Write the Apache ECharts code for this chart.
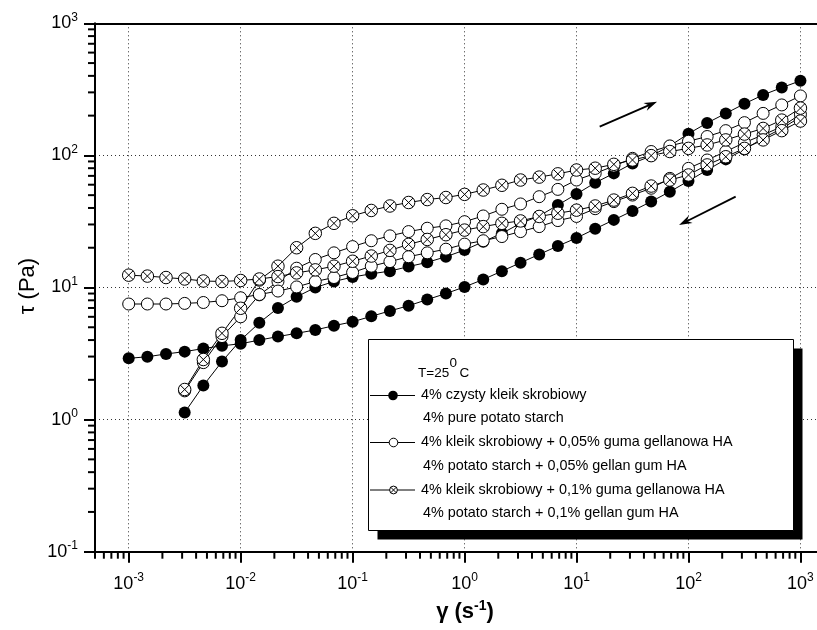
<!DOCTYPE html>
<html><head><meta charset="utf-8">
<script src="https://cdn.jsdelivr.net/npm/echarts@6/dist/echarts.min.js"></script>
<style>html,body{margin:0;padding:0;background:#fff}#c{width:817px;height:630px}</style>
</head><body><div id="c"></div>
<script>
// shear rate (s^-1), 6 points per decade
const GAMMA = [0.001,0.001468,0.002154,0.003162,0.004642,0.006813,0.01,0.01468,0.02154,0.03162,0.04642,0.06813,
  0.1,0.1468,0.2154,0.3162,0.4642,0.6813,1,1.468,2.154,3.162,4.642,6.813,
  10,14.68,21.54,31.62,46.42,68.13,100,146.8,215.4,316.2,464.2,681.3,1000];

// 4% pure potato starch
const PURE_UP = [null,null,null,1.13,1.81,2.75,4.0,5.4,7.0,8.5,10.0,11.1,12.0,12.7,13.3,14.4,15.5,17.1,19.2,22.2,25.7,30.6,34.8,42.1,51.0,62.1,73.1,87,99,118,146,176,208,246,287,326,367];
const PURE_DOWN = [2.91,2.99,3.14,3.27,3.45,3.62,3.75,4.0,4.25,4.5,4.77,5.14,5.5,6.05,6.65,7.28,8.1,9.0,10.1,11.5,13.3,15.4,17.8,20.6,23.7,27.8,32.5,38.0,44.7,53.1,64.0,77.5,93.3,111,135,160,195];
// + 0,05% gellan
const G005_UP = [null,null,null,1.65,2.7,4.25,6.0,8.8,11.1,14.0,16.3,18.3,20.4,22.6,24.6,26.5,28.1,29.3,31.5,34.8,39.1,42.9,48.7,55.3,65.1,73.1,83,95,107,118,128,139,154,177,208,241,282];
const G005_DOWN = [7.5,7.5,7.5,7.58,7.7,7.94,8.36,8.85,9.4,10.1,11.1,11.9,13.0,14.5,15.7,17.1,18.3,19.5,21.3,22.6,24.3,26.5,28.9,32.1,34.5,39.5,44.7,50.1,56.4,67,79.8,92.3,107,125,143,165,205];
// + 0,1% gellan
const G01_UP = [null,null,null,1.69,2.85,4.5,6.96,11.4,14.5,20.0,25.7,30.6,34.9,38.3,41.4,44.0,46.3,48.0,50.7,54.7,59.4,65.1,68.5,72.5,77.5,80,85.6,92.3,99.6,107,113,120,131,145,160,185,228];
const G01_DOWN = [12.4,12.2,11.9,11.6,11.2,11.1,11.3,11.6,12.1,12.9,13.6,14.5,15.8,17.3,19.1,21.2,23.1,25.1,27.2,28.9,30.6,31.9,34.5,36.5,38.5,41.4,45.9,51.6,58.6,65.1,71.1,84.7,97.7,113,131,154,182];

const X_TICKS = [0.001,0.01,0.1,1,10,100,1000];
const Y_TICKS = [0.1,1,10,100,1000];
const X_RANGE = [5e-4, 1406];
const Y_RANGE = [0.1, 1000];

// arrows: [x1, y1, x2, y2] in data units
const ARROW_UP = [16.1, 165, 52.4, 255];
const ARROW_DOWN = [264, 48.7, 82.4, 29.7];

const LEGEND_TITLE = ['T=25', '0', 'C'];
const LEGEND_PL = ['4% czysty kleik skrobiowy','4% kleik skrobiowy + 0,05% guma gellanowa HA','4% kleik skrobiowy + 0,1% guma gellanowa HA'];
const LEGEND_EN = ['4% pure potato starch','4% potato starch + 0,05% gellan gum HA','4% potato starch + 0,1% gellan gum HA'];
const LEGEND_KIND = ['filled','open','cross'];

const FONT = '"Liberation Sans", Arial, Helvetica, sans-serif';
const CROSS = 'path://M0 10A10 10 0 1 1 20 10A10 10 0 1 1 0 10ZM2.93 2.93L17.07 17.07M17.07 2.93L2.93 17.07';

function pairs(vals){ const out=[]; vals.forEach((v,i)=>{ if(v!=null) out.push([GAMMA[i], v]); }); return out; }

function series(name, vals, kind){
  const s = {type:'line', name, data:pairs(vals), symbolSize:12, showSymbol:true, xAxisIndex:0,
    lineStyle:{color:'#000', width:1}, emphasis:{disabled:true}, animation:false, z:3};
  if(kind==='filled'){ s.symbol='circle'; s.itemStyle={color:'#000', borderColor:'#000', borderWidth:0}; }
  if(kind==='open'){ s.symbol='circle'; s.itemStyle={color:'#fff', borderColor:'#000', borderWidth:1}; }
  if(kind==='cross'){ s.symbol=CROSS; s.symbolSize=12.5; s.itemStyle={color:'#fff', borderColor:'#000', borderWidth:1}; }
  return s;
}

function powLabel(v){
  const l = Math.log10(v); const e = Math.round(l);
  if (Math.abs(l-e) > 1e-6) return '';
  return '{b|10}{s|' + e + '}';
}
const RICH_AXIS = {
  b:{fontFamily:FONT, fontSize:18, color:'#000', lineHeight:24},
  s:{fontFamily:FONT, fontSize:12, color:'#000', lineHeight:8, verticalAlign:'top'}
};

// minor tick positions (2..9 x decade)
const MINOR_X = [], MINOR_Y = [];
for (let d=-4; d<=3; d++) for (let k=2; k<=9; k++){
  const v = k*Math.pow(10,d);
  if (v>X_RANGE[0]*0.999 && v<X_RANGE[1]) MINOR_X.push([v, Y_RANGE[0]]);
  if (v>Y_RANGE[0] && v<Y_RANGE[1]) MINOR_Y.push([X_RANGE[0], v]);
}

const minorSeries = [
  {type:'custom', silent:true, animation:false, z:6, clip:false, data:MINOR_X,
   renderItem:(p, api)=>{ const c = api.coord([api.value(0), api.value(1)]);
     return {type:'line', shape:{x1:c[0], y1:c[1], x2:c[0], y2:c[1]+7}, style:{stroke:'#000', lineWidth:2}}; }},
  {type:'custom', silent:true, animation:false, z:6, clip:false, data:MINOR_Y,
   renderItem:(p, api)=>{ const c = api.coord([api.value(0), api.value(1)]);
     return {type:'line', shape:{x1:c[0]-7, y1:c[1], x2:c[0], y2:c[1]}, style:{stroke:'#000', lineWidth:2}}; }}
];

const arrowSeries = {type:'custom', silent:true, animation:false, z:7, clip:false, data:[ARROW_UP, ARROW_DOWN],
  renderItem:(p, api)=>{
    const a = api.coord([api.value(0), api.value(1)]);
    const b = api.coord([api.value(2), api.value(3)]);
    const dx=b[0]-a[0], dy=b[1]-a[1], L=Math.hypot(dx,dy), ux=dx/L, uy=dy/L, nx=-uy, ny=ux;
    const hl=13, hw=4.2;
    const bx=b[0]-ux*hl, by=b[1]-uy*hl;
    return {type:'group', children:[
      {type:'line', shape:{x1:a[0], y1:a[1], x2:b[0]-ux*8, y2:b[1]-uy*8}, style:{stroke:'#000', lineWidth:1.8}},
      {type:'polygon', shape:{points:[[b[0],b[1]],[bx+nx*hw, by+ny*hw],[b[0]-ux*9, b[1]-uy*9],[bx-nx*hw, by-ny*hw]]}, style:{fill:'#000'}}
    ]};
  }};

// legend graphics
const G = [];
const BOX = {x:368.5, y:339.5, w:425, h:191};
const LEG_FS = 14.4;
G.push({type:'rect', z:100, shape:{x:BOX.x+9, y:BOX.y+9, width:BOX.w, height:BOX.h}, style:{fill:'#000'}});
G.push({type:'rect', z:101, shape:{x:BOX.x, y:BOX.y, width:BOX.w, height:BOX.h}, style:{fill:'#fff', stroke:'#000', lineWidth:1}});
const TXT = (x, y, t, fs) => ({type:'text', z:102, x, y, style:{text:t, fontFamily:FONT, fontSize:fs, fill:'#000', align:'left', verticalAlign:'middle', textAlign:'left', textVerticalAlign:'middle'}});
G.push(TXT(418, 373.5, LEGEND_TITLE[0], 13.5));
G.push(TXT(449.5, 363.5, LEGEND_TITLE[1], 13.5));
G.push(TXT(459.5, 373.5, LEGEND_TITLE[2], 13.5));
const ROW_Y = [[395.5, 418.5],[442.5, 466],[490, 513.5]];
for (let i=0;i<3;i++){
  const yc = ROW_Y[i][0];
  G.push({type:'line', z:102, shape:{x1:370, y1:yc, x2:415, y2:yc}, style:{stroke:'#000', lineWidth:1}});
  const kind = LEGEND_KIND[i];
  if (kind==='filled') G.push({type:'circle', z:103, shape:{cx:393, cy:yc, r:4.8}, style:{fill:'#000'}});
  if (kind==='open') G.push({type:'circle', z:103, shape:{cx:393.5, cy:yc, r:4.3}, style:{fill:'#fff', stroke:'#000', lineWidth:1}});
  if (kind==='cross'){
    G.push({type:'circle', z:103, shape:{cx:393.5, cy:yc, r:3.9}, style:{fill:'#fff', stroke:'#000', lineWidth:1}});
    G.push({type:'line', z:104, shape:{x1:390.7, y1:yc-2.8, x2:396.3, y2:yc+2.8}, style:{stroke:'#000', lineWidth:1}});
    G.push({type:'line', z:104, shape:{x1:396.3, y1:yc-2.8, x2:390.7, y2:yc+2.8}, style:{stroke:'#000', lineWidth:1}});
  }
  G.push(TXT(421, yc, LEGEND_PL[i], LEG_FS));
  G.push(TXT(423, ROW_Y[i][1], LEGEND_EN[i], LEG_FS));
}
// axis titles
G.push({type:'text', z:50, x:28, y:286, rotation:Math.PI/2, style:{text:'τ (Pa)', fontFamily:FONT, fontSize:22, fill:'#000', align:'center', verticalAlign:'middle', textAlign:'center', textVerticalAlign:'middle'}});
G.push({type:'text', z:50, x:465, y:612, style:{text:'{g|γ (s}{s|-1}{g|)}',
  rich:{g:{fontFamily:FONT, fontSize:22, fontWeight:'bold', fill:'#000', lineHeight:26}, s:{fontFamily:FONT, fontSize:14, fontWeight:'bold', fill:'#000', lineHeight:10, verticalAlign:'top'}},
  align:'center', verticalAlign:'middle', textAlign:'center', textVerticalAlign:'middle'}});

const axisCommon = {
  type:'log', logBase:10,
  axisLine:{show:true, onZero:false, lineStyle:{color:'#000', width:2}},
  splitLine:{show:true, lineStyle:{color:'#333', width:1, type:[1,3]}},
  minorTick:{show:false}, minorSplitLine:{show:false}
};

const option = {
  animation:false,
  backgroundColor:'#fff',
  grid:{left:95, top:23.3, right:0, bottom:78.3, show:false, containLabel:false},
  xAxis:[
    Object.assign({}, axisCommon, {min:X_RANGE[0], max:X_RANGE[1], position:'bottom',
      axisTick:{show:true, length:11, inside:false, customValues:X_TICKS, lineStyle:{color:'#000', width:2}},
      axisLabel:{customValues:X_TICKS, margin:20, formatter:powLabel, rich:RICH_AXIS}}),
    {type:'log', logBase:10, min:X_RANGE[0], max:X_RANGE[1], position:'top',
      axisLine:{show:true, onZero:false, lineStyle:{color:'#000', width:2}},
      axisTick:{show:false}, axisLabel:{show:false}, splitLine:{show:false}}
  ],
  yAxis:Object.assign({}, axisCommon, {min:Y_RANGE[0], max:Y_RANGE[1],
    axisTick:{show:true, length:11, inside:false, customValues:Y_TICKS, lineStyle:{color:'#000', width:2}},
    axisLabel:{customValues:Y_TICKS, margin:17, formatter:powLabel, rich:RICH_AXIS}}),
  series:[
    series('4% pure potato starch (up)', PURE_UP, 'filled'),
    series('4% pure potato starch (down)', PURE_DOWN, 'filled'),
    series('+0,05% gellan (up)', G005_UP, 'open'),
    series('+0,05% gellan (down)', G005_DOWN, 'open'),
    series('+0,1% gellan (up)', G01_UP, 'cross'),
    series('+0,1% gellan (down)', G01_DOWN, 'cross'),
    minorSeries[0], minorSeries[1], arrowSeries
  ],
  graphic:{elements:G}
};
const chart = echarts.init(document.getElementById('c'), null, {renderer:'canvas'});
chart.setOption(option);
</script></body></html>
